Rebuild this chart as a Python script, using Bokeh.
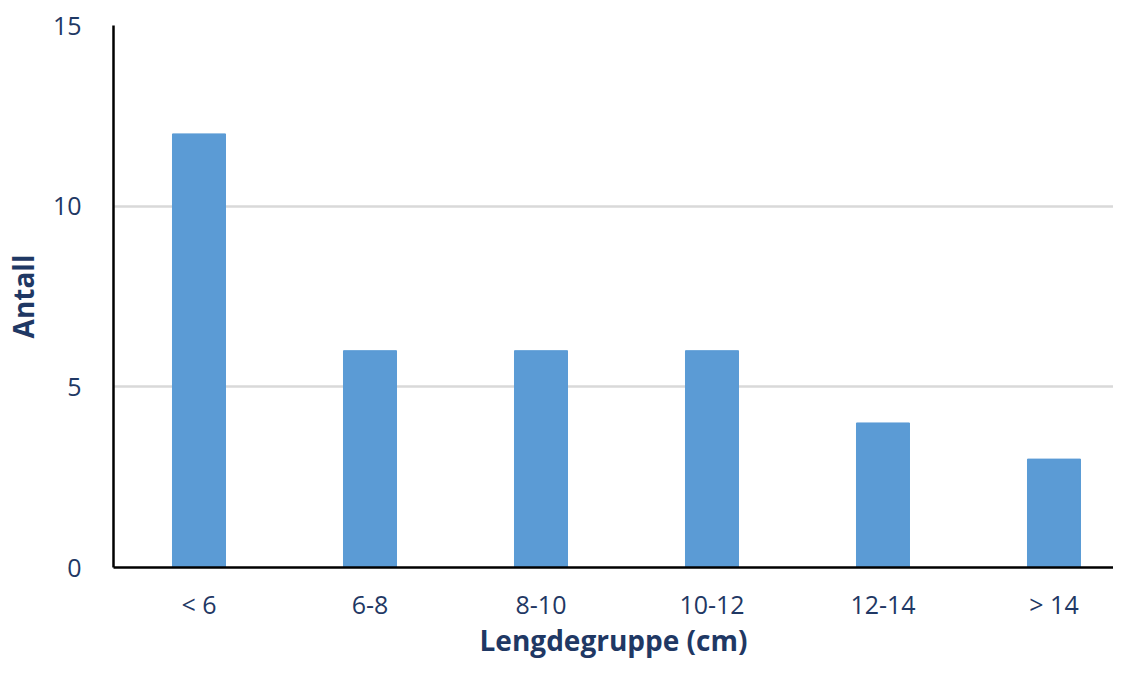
from bokeh.plotting import figure
from bokeh.models import Range1d, FixedTicker, ColumnDataSource
from bokeh.embed import file_html
from bokeh.resources import INLINE

categories = ["< 6", "6-8", "8-10", "10-12", "12-14", "> 14"]
counts = [12, 6, 6, 6, 4, 3]
y_ticks = [0, 5, 10, 15]

xpos = [i + 0.5 for i in range(len(categories))]
src = ColumnDataSource(dict(x=xpos, top=counts))

TXT = "#1f3864"
FONT = "Open Sans"

p = figure(width=1113, height=661, output_backend="svg", toolbar_location=None,
           x_range=Range1d(0, 5.848), y_range=Range1d(0, 15))
p.min_border_left = 113
p.min_border_top = 25
p.min_border_bottom = 93
p.min_border_right = 0
p.outline_line_color = None

p.vbar(x="x", top="top", width=0.31, source=src, color="#5b9bd5")

p.xaxis.ticker = FixedTicker(ticks=xpos)
p.xaxis.major_label_overrides = {x: c for x, c in zip(xpos, categories)}
p.yaxis.ticker = FixedTicker(ticks=y_ticks)

for ax in (p.xaxis[0], p.yaxis[0]):
    ax.axis_line_color = "black"
    ax.axis_line_width = 2.5
    ax.major_tick_line_color = None
    ax.minor_tick_line_color = None
    ax.major_label_text_color = TXT
    ax.major_label_text_font = FONT
    ax.major_label_text_font_size = "25px"
    ax.axis_label_text_color = TXT
    ax.axis_label_text_font = FONT
    ax.axis_label_text_font_size = "28px"
    ax.axis_label_text_font_style = "bold"

p.xaxis.axis_label = "Lengdegruppe (cm)"
p.yaxis.axis_label = "Antall"
p.xaxis.major_label_standoff = 13
p.xaxis.axis_label_standoff = -3
p.yaxis.major_label_standoff = 26
p.yaxis.axis_label_standoff = 8

p.xgrid.grid_line_color = None
p.ygrid.grid_line_color = "#d9d9d9"
p.ygrid.grid_line_width = 2.5

open("out.html", "w").write(file_html(p, INLINE))
